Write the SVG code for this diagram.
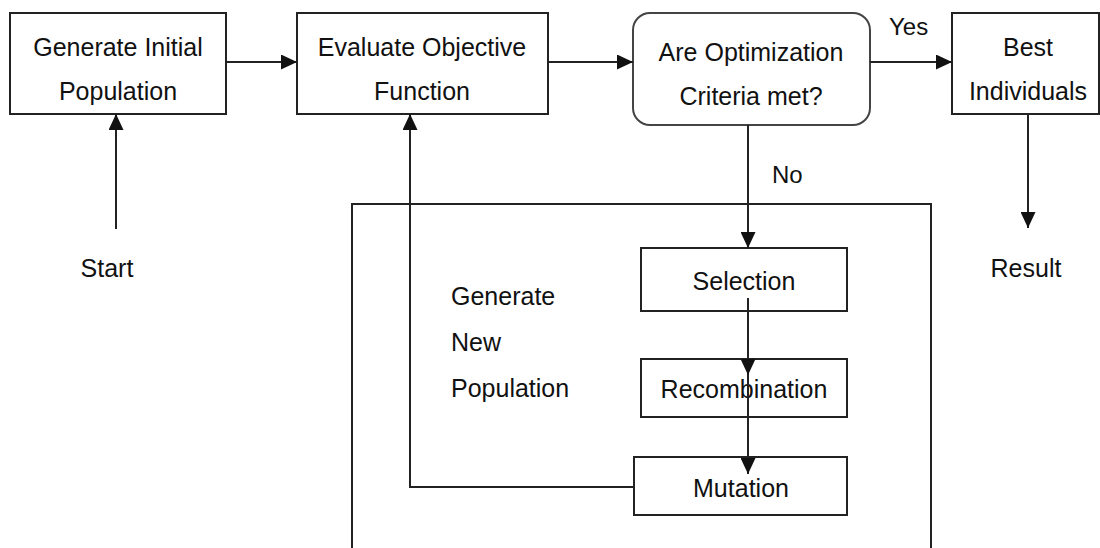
<svg xmlns="http://www.w3.org/2000/svg" width="1100" height="548" viewBox="0 0 1100 548">
<style>
.box{fill:#fff;stroke:#222;stroke-width:2}
.t{font-family:"Liberation Sans",Arial,sans-serif;font-size:25px;fill:#111}
.c{text-anchor:middle}
.ln{fill:none;stroke:#222;stroke-width:2}
</style>
<defs>
<marker id="ah" markerUnits="userSpaceOnUse" viewBox="0 0 16 15" refX="16" refY="7.5" markerWidth="16" markerHeight="15" orient="auto">
<path d="M0,0 L16,7.5 L0,15 Z" fill="#111"/>
</marker>
</defs>
<rect width="1100" height="548" fill="#fff"/>
<g id="outer-frame">
<path class="ln" d="M352,550 V204 H931 V550"/>
</g>
<g id="generate-initial">
<rect class="box" x="10" y="13" width="216" height="101"/>
<text class="t c" x="118" y="56">Generate Initial</text>
<text class="t c" x="118" y="100">Population</text>
</g>
<g id="evaluate">
<rect class="box" x="297" y="13" width="251" height="101"/>
<text class="t c" x="422" y="56">Evaluate Objective</text>
<text class="t c" x="422" y="100">Function</text>
</g>
<g id="criteria">
<rect class="box" x="633" y="13" width="237" height="112" rx="17" ry="17" style="stroke:#444"/>
<text class="t c" x="751" y="61">Are Optimization</text>
<text class="t c" x="751" y="105">Criteria met?</text>
</g>
<g id="best">
<rect class="box" x="952" y="13" width="147" height="101"/>
<text class="t c" x="1028" y="56">Best</text>
<text class="t c" x="1028" y="100">Individuals</text>
</g>
<g id="start">
<text class="t c" x="107" y="277">Start</text>
</g>
<g id="result">
<text class="t c" x="1026" y="277">Result</text>
</g>
<g id="gen-new-label">
<text class="t" x="451" y="305">Generate</text>
<text class="t" x="451" y="351">New</text>
<text class="t" x="451" y="397">Population</text>
</g>
<g id="selection">
<rect class="box" x="641" y="248" width="206" height="63"/>
<text class="t c" x="744" y="290">Selection</text>
</g>
<g id="recombination">
<rect class="box" x="641" y="359" width="206" height="58"/>
<text class="t c" x="744" y="398">Recombination</text>
</g>
<g id="mutation">
<rect class="box" x="634" y="457" width="213" height="58"/>
<text class="t c" x="741" y="497">Mutation</text>
</g>
<g id="connectors">
<line class="ln" x1="226" y1="62" x2="297" y2="62" marker-end="url(#ah)"/>
<line class="ln" x1="548" y1="62" x2="633" y2="62" marker-end="url(#ah)"/>
<line class="ln" x1="870" y1="62" x2="952" y2="62" marker-end="url(#ah)"/>
<line class="ln" x1="116" y1="229" x2="116" y2="114" marker-end="url(#ah)"/>
<line class="ln" x1="1028" y1="114" x2="1028" y2="228" marker-end="url(#ah)"/>
<line class="ln" x1="748" y1="125" x2="748" y2="248" marker-end="url(#ah)"/>
<line class="ln" x1="748" y1="298" x2="748" y2="375" marker-end="url(#ah)"/>
<line class="ln" x1="748" y1="375" x2="748" y2="474" marker-end="url(#ah)"/>
<polyline class="ln" points="634,487 410,487 410,114" marker-end="url(#ah)"/>
<text class="t" x="889" y="35" style="font-size:24px">Yes</text>
<text class="t" x="772" y="183" style="font-size:24px">No</text>
</g>
</svg>
